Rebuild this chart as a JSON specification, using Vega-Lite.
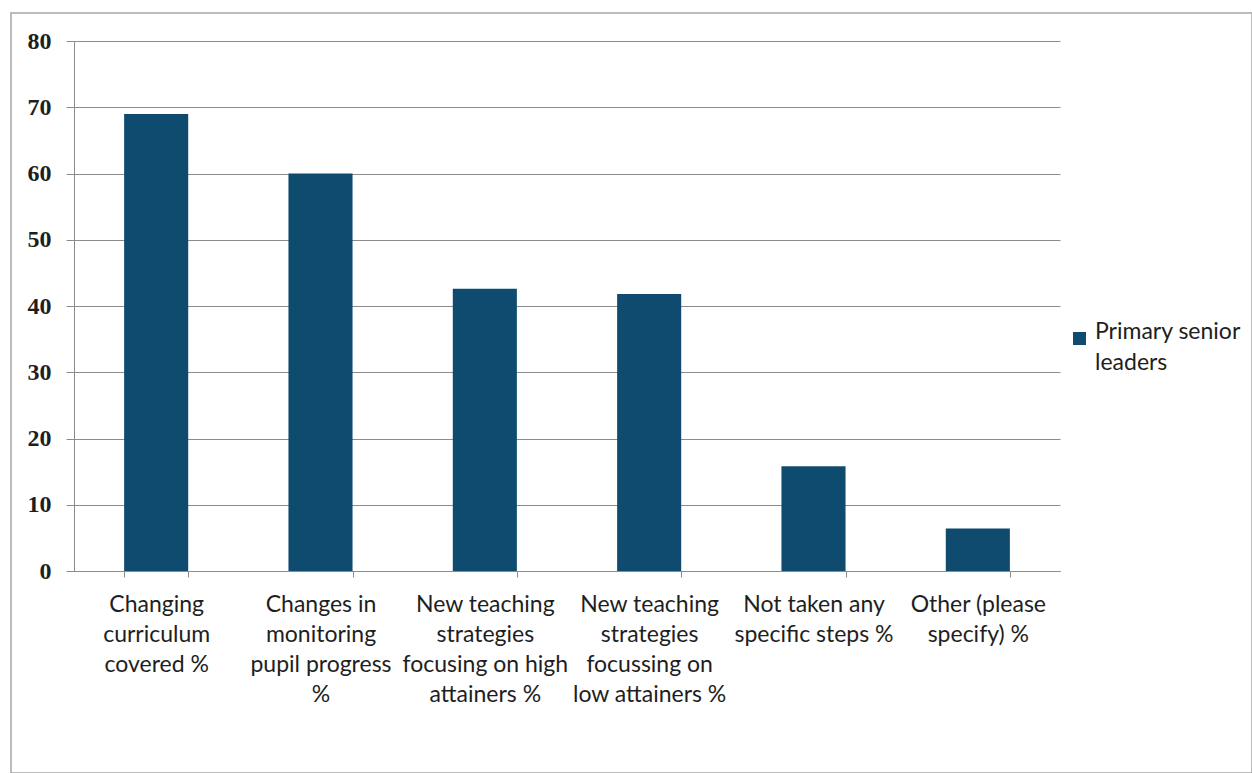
{
  "$schema": "https://vega.github.io/schema/vega-lite/v6.json",
  "autosize": "none",
  "padding": {"left": 11, "top": 13, "right": 0, "bottom": 0},
  "width": 1241,
  "height": 760,
  "background": "#ffffff",
  "config": {
    "view": {"stroke": "#a6a6a6", "strokeWidth": 1.5},
    "style": {"guide-label": {"lineHeight": 31}}
  },
  "data": {
    "values": [
      {"step": "Changing curriculum covered %", "percent": 69, "group": "Primary senior leaders"},
      {"step": "Changes in monitoring pupil progress %", "percent": 60, "group": "Primary senior leaders"},
      {"step": "New teaching strategies focusing on high attainers %", "percent": 42.6, "group": "Primary senior leaders"},
      {"step": "New teaching strategies focussing on low attainers %", "percent": 41.8, "group": "Primary senior leaders"},
      {"step": "Not taken any specific steps %", "percent": 15.8, "group": "Primary senior leaders"},
      {"step": "Other (please specify) %", "percent": 6.4, "group": "Primary senior leaders"}
    ]
  },
  "mark": {"type": "bar", "cornerRadius": 0},
  "encoding": {
    "x": {
      "field": "step",
      "type": "nominal",
      "sort": null,
      "title": null,
      "scale": {"range": [63, 1049], "paddingInner": 0.61, "paddingOuter": 0.305},
      "axis": {
        "offset": -202,
        "labelAngle": 0,
        "labelFont": "Lato",
        "labelFontSize": 23,
        "labelColor": "#1e1e1e",
        "labelLineHeight": 30,
        "labelPadding": 16,
        "labelLimit": 0,
        "labelOverlap": false,
        "tickBand": "extent",
        "tickSize": 6,
        "tickColor": "#8c8c8c",
        "domainColor": "#8c8c8c",
        "grid": false,
        "labelExpr": "datum.label == 'Changing curriculum covered %' ? ['Changing', 'curriculum', 'covered %'] : datum.label == 'Changes in monitoring pupil progress %' ? ['Changes in', 'monitoring', 'pupil progress', '%'] : datum.label == 'New teaching strategies focusing on high attainers %' ? ['New teaching', 'strategies', 'focusing on high', 'attainers %'] : datum.label == 'New teaching strategies focussing on low attainers %' ? ['New teaching', 'strategies', 'focussing on', 'low attainers %'] : datum.label == 'Not taken any specific steps %' ? ['Not taken any', 'specific steps %'] : datum.label == 'Other (please specify) %' ? ['Other (please', 'specify) %'] : ''"
      }
    },
    "y": {
      "field": "percent",
      "type": "quantitative",
      "title": null,
      "scale": {"domain": [0, 80], "range": [558, 28], "nice": false},
      "axis": {
        "offset": -63,
        "values": [0, 10, 20, 30, 40, 50, 60, 70, 80],
        "labelFont": "Liberation Serif",
        "labelFontWeight": "bold",
        "labelFontSize": 24,
        "labelColor": "#1e1e1e",
        "labelPadding": 15,
        "tickSize": 8,
        "tickColor": "#8c8c8c",
        "domainColor": "#8c8c8c",
        "grid": true,
        "gridColor": "#8c8c8c",
        "gridWidth": 1
      }
    },
    "color": {
      "field": "group",
      "type": "nominal",
      "title": null,
      "scale": {"range": ["#0f4b6e"]},
      "legend": {
        "orient": "none",
        "legendX": 1057,
        "legendY": 314,
        "padding": 0,
        "symbolType": "square",
        "symbolSize": 169,
        "symbolStrokeWidth": 0,
        "labelFont": "Lato",
        "labelFontSize": 23,
        "labelColor": "#1e1e1e",
        "labelBaseline": "alphabetic",
        "labelOffset": 4,
        "labelLimit": 0,
        "labelExpr": "datum.label == 'Primary senior leaders' ? ['Primary senior', 'leaders'] : datum.label"
      }
    }
  }
}
